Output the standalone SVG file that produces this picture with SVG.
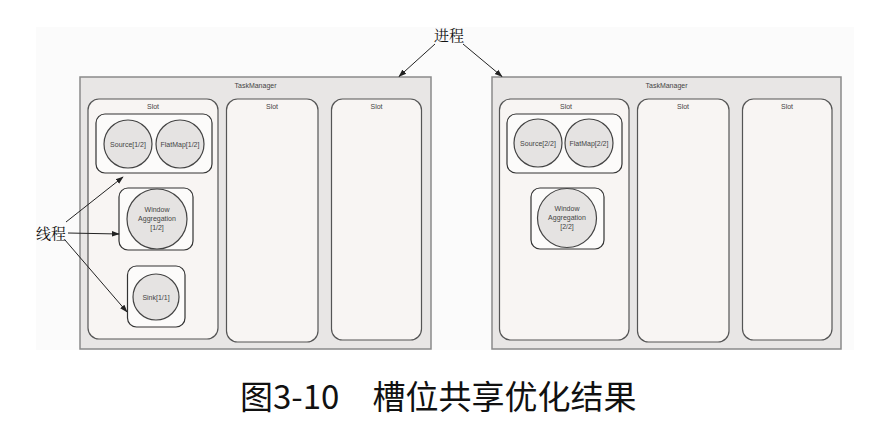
<svg xmlns="http://www.w3.org/2000/svg" width="892" height="445" viewBox="0 0 892 445">
<defs>
<marker id="ah" viewBox="0 0 10 10" refX="9" refY="5" markerWidth="8" markerHeight="8" markerUnits="userSpaceOnUse" orient="auto">
<path d="M0,1.5 L10,5 L0,8.5 z" fill="#222"/>
</marker>
<style>
.tm{fill:#e8e6e5;stroke:#8a8a8a;stroke-width:1.5}
.slot{fill:#f8f5f3;stroke:#555;stroke-width:1.2}
.grp{fill:#fcfbfa;stroke:#333;stroke-width:1.2}
.op{fill:#e5e3e2;stroke:#444;stroke-width:1.2}
.lbl{font-family:"Liberation Sans",Arial,sans-serif;font-size:7px;fill:#444;text-anchor:middle}
.cn{font-family:"Noto Serif CJK SC","Noto Sans CJK SC",serif;font-size:15px;fill:#111}
.arr{stroke:#222;stroke-width:1;fill:none;marker-end:url(#ah)}
</style>
</defs>
<rect width="892" height="445" fill="#ffffff"/>
<rect x="36" y="27" width="818" height="323" fill="#fbfbfb"/>

<g id="tm1">
<rect class="tm" x="80" y="77" width="351" height="272"/>
<text class="lbl" x="255.5" y="88">TaskManager</text>
</g>
<g id="tm1-slot1">
<rect class="slot" x="88" y="99" width="130" height="240" rx="11"/>
<text class="lbl" x="153" y="109">Slot</text>
</g>
<g id="tm1-slot2">
<rect class="slot" x="226.5" y="99" width="91.5" height="243" rx="11"/>
<text class="lbl" x="272" y="109">Slot</text>
</g>
<g id="tm1-slot3">
<rect class="slot" x="331.5" y="99" width="90" height="241" rx="11"/>
<text class="lbl" x="376.5" y="109">Slot</text>
</g>
<g id="tm1-grp1">
<rect class="grp" x="96" y="114" width="116" height="59" rx="9"/>
</g>
<g id="tm1-source">
<circle class="op" cx="128" cy="144" r="24"/>
<text class="lbl" x="128" y="146.5">Source[1/2]</text>
</g>
<g id="tm1-flatmap">
<circle class="op" cx="180" cy="144" r="24"/>
<text class="lbl" x="180" y="146.5">FlatMap[1/2]</text>
</g>
<g id="tm1-window">
<rect class="grp" x="119" y="188" width="74" height="62" rx="9"/>
<circle class="op" cx="157" cy="219" r="30"/>
<text class="lbl" x="157" y="212">Window</text>
<text class="lbl" x="157" y="221">Aggregation</text>
<text class="lbl" x="157" y="230">[1/2]</text>
</g>
<g id="tm1-sink">
<rect class="grp" x="127.5" y="266" width="57.5" height="61" rx="9"/>
<circle class="op" cx="156" cy="297" r="23"/>
<text class="lbl" x="156" y="299.5">Sink[1/1]</text>
</g>

<g id="tm2">
<rect class="tm" x="492" y="77" width="349" height="272"/>
<text class="lbl" x="666.5" y="88">TaskManager</text>
</g>
<g id="tm2-slot1">
<rect class="slot" x="499.5" y="99" width="129.5" height="241" rx="11"/>
<text class="lbl" x="566" y="109">Slot</text>
</g>
<g id="tm2-slot2">
<rect class="slot" x="637.5" y="99" width="91.5" height="243" rx="11"/>
<text class="lbl" x="683" y="109">Slot</text>
</g>
<g id="tm2-slot3">
<rect class="slot" x="742.5" y="99" width="89.5" height="241" rx="11"/>
<text class="lbl" x="787" y="109">Slot</text>
</g>
<g id="tm2-grp1">
<rect class="grp" x="507" y="114" width="115" height="59" rx="9"/>
</g>
<g id="tm2-source">
<circle class="op" cx="538" cy="143" r="24"/>
<text class="lbl" x="538" y="145.5">Source[2/2]</text>
</g>
<g id="tm2-flatmap">
<circle class="op" cx="589" cy="143" r="24"/>
<text class="lbl" x="589" y="145.5">FlatMap[2/2]</text>
</g>
<g id="tm2-window">
<rect class="grp" x="531" y="188" width="73" height="61" rx="9"/>
<circle class="op" cx="567" cy="218" r="29.5"/>
<text class="lbl" x="567" y="211">Window</text>
<text class="lbl" x="567" y="220">Aggregation</text>
<text class="lbl" x="567" y="229">[2/2]</text>
</g>

<g id="label-process">
<text class="cn" x="434" y="41">进程</text>
</g>
<g id="label-thread">
<text class="cn" x="36" y="239">线程</text>
</g>

<g id="connectors">
<line class="arr" x1="435" y1="44" x2="399" y2="76.5"/>
<line class="arr" x1="463" y1="44" x2="502" y2="76.5"/>
<line class="arr" x1="66" y1="222" x2="123" y2="177"/>
<line class="arr" x1="68" y1="233" x2="119" y2="234"/>
<line class="arr" x1="65" y1="240" x2="127" y2="312"/>
</g>

<g id="caption">
<text x="240" y="409" font-family="'Noto Sans CJK SC',sans-serif" font-size="33" fill="#111">图3-10　槽位共享优化结果</text>
</g>
</svg>
